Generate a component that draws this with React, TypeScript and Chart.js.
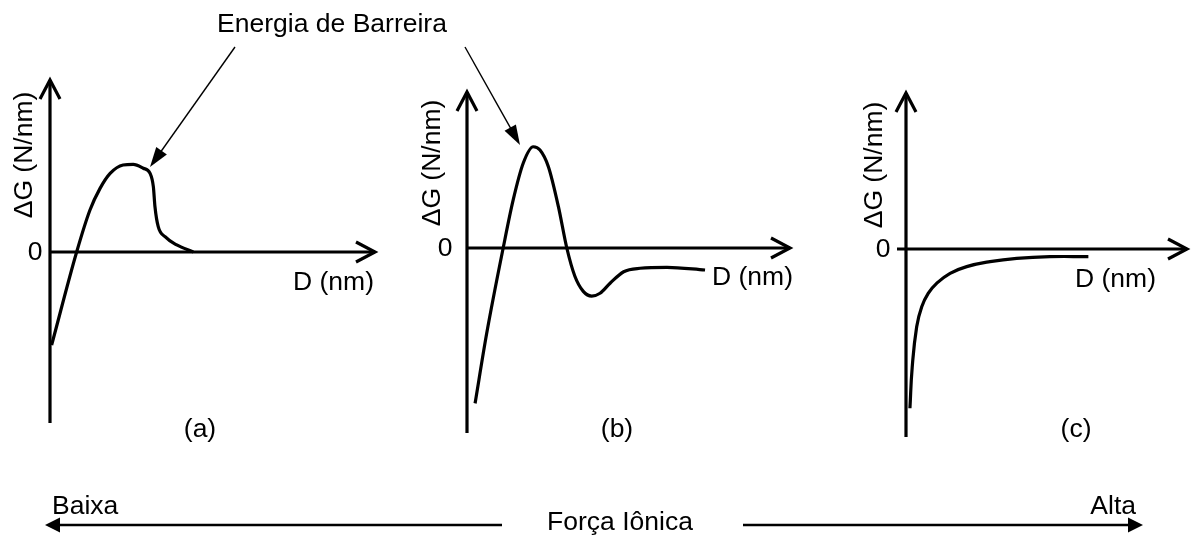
import { useEffect, useRef } from "react";
import { Chart, registerables } from "chart.js";

Chart.register(...registerables);

// ΔG(D) profiles, D from the surface (nm, arbitrary scale 0–10 per panel),
// ΔG in arbitrary units (0 on the D axis).

// (a) low ionic strength: high energy barrier
const distanceA = [0.05, 0.82, 1.23, 1.54, 1.85, 2.25, 2.56, 2.87, 3.08, 3.18, 3.23, 3.33, 3.54, 3.9, 4.41];
const energyA = [-5.41, 0, 2.44, 3.7, 4.57, 5.06, 5.1, 4.87, 4.57, 3.8, 2.63, 1.47, 0.89, 0.41, 0];

// (b) intermediate ionic strength: barrier plus secondary minimum
const distanceB = [0.25, 0.61, 1.12, 1.43, 1.74, 2.05, 2.26, 2.52, 2.83, 3.09, 3.34, 3.6, 3.86, 4.12, 4.43, 4.85, 5.36, 6.19, 7.37];
const energyB = [-9.96, -5.47, 0, 3.08, 5.43, 6.49, 6.28, 5.21, 2.65, 0, -1.81, -2.78, -3.08, -2.9, -2.26, -1.52, -1.3, -1.24, -1.41];

// (c) high ionic strength: purely attractive
const distanceC = [0.14, 0.22, 0.38, 0.56, 0.79, 1.09, 1.57, 2.16, 2.99, 3.94, 5.12, 6.49];
const energyC = [-10.21, -7.6, -4.98, -3.7, -2.84, -2.2, -1.56, -1.13, -0.81, -0.6, -0.49, -0.49];

const panelLetters = ["(a)", "(b)", "(c)"];
const axisTitleX = "D (nm)";
const axisTitleY = "ΔG (N/nm)";
const zeroLabel = "0";
const barrierLabel = "Energia de Barreira";
const strengthLabel = "Força Iônica";
const lowLabel = "Baixa";
const highLabel = "Alta";

const W = 1191;
const H = 535;
const FONT = '26.5px "Liberation Sans", Arial, Helvetica, sans-serif';

// Layout of each panel: origin in px, px per D unit, px per ΔG unit,
// axis extents in data units, and where its captions sit.
const panels = [
  { id: "a", ox: 50, oy: 252, kx: 32.5, ky: 17.2, yTop: 10, yBottom: -9.94, xStart: 0, xEnd: 10, zeroX: 35, dTitle: [293, 283], gTitle: [25, 155], letter: [200, 430], tension: 0, mode: "monotone" },
  { id: "b", ox: 467, oy: 248, kx: 32.3, ky: 15.6, yTop: 10, yBottom: -11.86, xStart: 0, xEnd: 10, zeroX: 445, dTitle: [712, 278], gTitle: [433, 163], letter: [617, 430], tension: 0, mode: "monotone" },
  { id: "c", ox: 906, oy: 249, kx: 28.1, ky: 15.6, yTop: 10, yBottom: -12.05, xStart: -0.32, xEnd: 10, zeroX: 883, dTitle: [1075, 280], gTitle: [875, 165], letter: [1076, 430], tension: 0.45, mode: "default" },
];

const series = [
  { d: distanceA, g: energyA },
  { d: distanceB, g: energyB },
  { d: distanceC, g: energyC },
];

function filledHead(ctx: CanvasRenderingContext2D, fx: number, fy: number, tx: number, ty: number, len: number, half: number) {
  const a = Math.atan2(ty - fy, tx - fx);
  const bx = tx - len * Math.cos(a);
  const by = ty - len * Math.sin(a);
  ctx.beginPath();
  ctx.moveTo(tx, ty);
  ctx.lineTo(bx + half * Math.sin(a), by - half * Math.cos(a));
  ctx.lineTo(bx - half * Math.sin(a), by + half * Math.cos(a));
  ctx.closePath();
  ctx.fill();
}

function pointerArrow(ctx: CanvasRenderingContext2D, fx: number, fy: number, tx: number, ty: number, width: number, len: number, half: number) {
  const a = Math.atan2(ty - fy, tx - fx);
  ctx.lineWidth = width;
  ctx.beginPath();
  ctx.moveTo(fx, fy);
  ctx.lineTo(tx - (len - 1) * Math.cos(a), ty - (len - 1) * Math.sin(a));
  ctx.stroke();
  filledHead(ctx, fx, fy, tx, ty, len, half);
}

const diagramPlugin = {
  id: "diagram",
  afterDatasetsDraw(chart: any) {
    const ctx: CanvasRenderingContext2D = chart.ctx;
    ctx.save();
    ctx.strokeStyle = "#000";
    ctx.fillStyle = "#000";
    ctx.lineCap = "butt";
    ctx.lineJoin = "miter";

    panels.forEach((p, i) => {
      const xs = chart.scales["x" + p.id];
      const ys = chart.scales["y" + p.id];
      const x0 = xs.getPixelForValue(0);
      const y0 = ys.getPixelForValue(0);
      const yTop = ys.getPixelForValue(p.yTop);
      const yBot = ys.getPixelForValue(p.yBottom);
      const xL = xs.getPixelForValue(p.xStart);
      const xR = xs.getPixelForValue(p.xEnd);

      // axes
      ctx.lineWidth = 3.2;
      ctx.beginPath();
      ctx.moveTo(x0, yBot);
      ctx.lineTo(x0, yTop + 1);
      ctx.moveTo(xL, y0);
      ctx.lineTo(xR - 1, y0);
      ctx.stroke();
      // open arrow heads
      ctx.beginPath();
      ctx.moveTo(x0 - 10, yTop + 19);
      ctx.lineTo(x0, yTop);
      ctx.lineTo(x0 + 10, yTop + 19);
      ctx.moveTo(xR - 19, y0 - 10);
      ctx.lineTo(xR, y0);
      ctx.lineTo(xR - 19, y0 + 10);
      ctx.stroke();

      // captions
      ctx.font = FONT;
      ctx.textBaseline = "middle";
      ctx.textAlign = "center";
      ctx.fillText(zeroLabel, p.zeroX, y0 + 1);
      ctx.fillText(panelLetters[i], p.letter[0], p.letter[1]);
      ctx.textAlign = "left";
      ctx.fillText(axisTitleX, p.dTitle[0], p.dTitle[1]);
      ctx.save();
      ctx.translate(p.gTitle[0], p.gTitle[1]);
      ctx.rotate(-Math.PI / 2);
      ctx.textAlign = "center";
      ctx.fillText(axisTitleY, 0, 0);
      ctx.restore();
    });

    // barrier callout
    ctx.font = FONT;
    ctx.textAlign = "center";
    ctx.textBaseline = "middle";
    ctx.fillText(barrierLabel, 332, 25);
    pointerArrow(ctx, 235, 47, 150, 167, 1.4, 20, 6.5);
    pointerArrow(ctx, 465, 47, 520, 145, 1.4, 20, 6.5);

    // ionic strength scale
    ctx.fillText(strengthLabel, 620, 523);
    ctx.textAlign = "left";
    ctx.fillText(lowLabel, 52, 507);
    ctx.textAlign = "right";
    ctx.fillText(highLabel, 1136, 507);
    ctx.lineWidth = 2.6;
    ctx.beginPath();
    ctx.moveTo(58, 525);
    ctx.lineTo(502, 525);
    ctx.moveTo(743, 525);
    ctx.lineTo(1130, 525);
    ctx.stroke();
    filledHead(ctx, 100, 525, 45, 525, 15, 7.5);
    filledHead(ctx, 1100, 525, 1143, 525, 15, 7.5);

    ctx.restore();
  },
};

export default function App() {
  const canvasRef = useRef<HTMLCanvasElement | null>(null);

  useEffect(() => {
    const canvas = canvasRef.current;
    if (!canvas) return;

    const scales: any = {};
    panels.forEach((p) => {
      scales["x" + p.id] = { type: "linear", display: false, min: -p.ox / p.kx, max: (W - p.ox) / p.kx };
      scales["y" + p.id] = { type: "linear", display: false, min: -(H - p.oy) / p.ky, max: p.oy / p.ky };
    });

    const chart = new Chart(canvas, {
      type: "line",
      data: {
        datasets: panels.map((p, i) => ({
          label: panelLetters[i],
          xAxisID: "x" + p.id,
          yAxisID: "y" + p.id,
          data: series[i].d.map((d, j) => ({ x: d, y: series[i].g[j] })),
          borderColor: "#000",
          borderWidth: 3.2,
          pointRadius: 0,
          fill: false,
          tension: p.tension,
          cubicInterpolationMode: p.mode as any,
          borderCapStyle: "butt" as const,
          clip: false as any,
        })),
      },
      options: {
        animation: false,
        responsive: false,
        maintainAspectRatio: false,
        layout: { padding: 0 },
        events: [],
        plugins: { legend: { display: false }, tooltip: { enabled: false } },
        scales,
      },
      plugins: [diagramPlugin],
    });

    return () => chart.destroy();
  }, []);

  return (
    <div style={{ position: "fixed", left: 0, top: 0, width: W, height: H, background: "#fff" }}>
      <canvas ref={canvasRef} width={W} height={H} style={{ display: "block", width: W, height: H }} />
    </div>
  );
}
